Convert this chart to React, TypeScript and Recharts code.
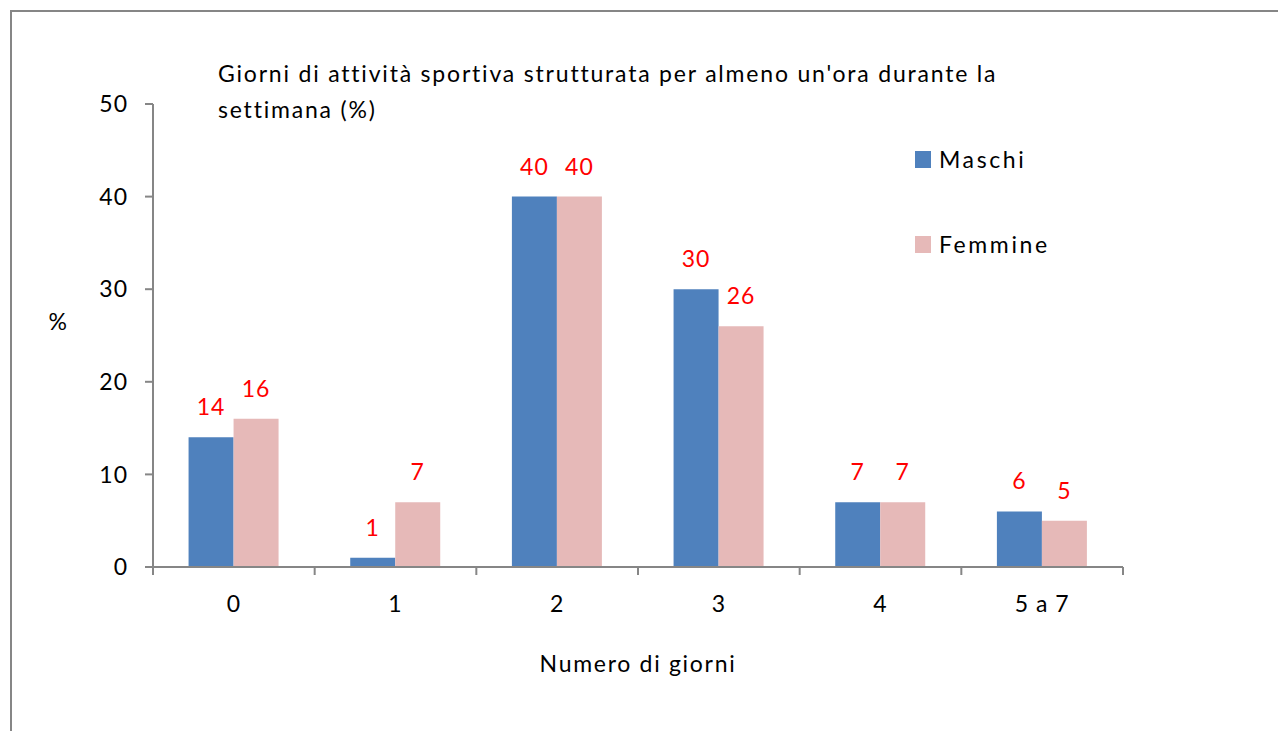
import React from 'react';
import { BarChart, Bar, XAxis, YAxis, Legend, LabelList } from 'recharts';

const categories = ['0', '1', '2', '3', '4', '5 a 7'];
const maschi = [14, 1, 40, 30, 7, 6];
const femmine = [16, 7, 40, 26, 7, 5];
const seriesNames = ['Maschi', 'Femmine'];
const yTicks = [0, 10, 20, 30, 40, 50];
const titleLines = ["Giorni di attività sportiva strutturata per almeno un'ora durante la", 'settimana (%)'];

const BLUE = '#4f81bd';
const PINK = '#e6b9b8';
const AXIS = '#868686';
const FONT = 'Lato, "Liberation Sans", sans-serif';
const FS = 23;

const data = categories.map((c, i) => ({ cat: c, Maschi: maschi[i], Femmine: femmine[i] }));

const CatTick = (props: any) => {
  const { x, y, payload, index } = props;
  const half = payload.offset || 0;
  return (
    <g>
      <line x1={x - half} x2={x - half} y1={y} y2={y + 8} stroke={AXIS} strokeWidth={2} />
      {index === categories.length - 1 && (
        <line x1={x + half} x2={x + half} y1={y} y2={y + 8} stroke={AXIS} strokeWidth={2} />
      )}
      <text x={x} y={y + 45} textAnchor="middle" fill="#000" fontSize={FS} fontFamily={FONT} letterSpacing={1}>
        {payload.value}
      </text>
    </g>
  );
};

const LegendContent = (props: any) => {
  const payload = [...(props.payload || [])].sort(
    (a: any, b: any) => seriesNames.indexOf(a.value) - seriesNames.indexOf(b.value)
  );
  return (
    <div style={{ position: 'relative', width: 200, height: 120 }}>
      {payload.map((p: any, i: number) => (
        <div
          key={p.value}
          style={{ position: 'absolute', left: 0, top: i * 85, display: 'flex', alignItems: 'center', height: 20 }}
        >
          <div style={{ width: 16, height: 17, background: p.color, marginRight: 8 }} />
          <span style={{ fontFamily: FONT, fontSize: FS, color: '#000', lineHeight: '20px', letterSpacing: 2.6 }}>{p.value}</span>
        </div>
      ))}
    </div>
  );
};

export default function App() {
  return (
    <div style={{ position: 'absolute', left: 0, top: 0, width: 1278, height: 731, overflow: 'hidden', background: '#fff' }}>
      <div
        style={{
          position: 'absolute',
          left: 10,
          top: 10,
          width: 1400,
          height: 900,
          borderLeft: `2px solid ${AXIS}`,
          borderTop: `2px solid ${AXIS}`,
        }}
      />
      <div style={{ position: 'absolute', left: 0, top: 0 }}>
        <BarChart
          width={1278}
          height={731}
          data={data}
          margin={{ top: 104, right: 155, bottom: 134, left: 93 }}
          barCategoryGap="22%"
          barGap={0}
        >
          <XAxis
            dataKey="cat"
            interval={0}
            tickLine={false}
            tickSize={0}
            tickMargin={0}
            axisLine={{ stroke: AXIS, strokeWidth: 2 }}
            tick={<CatTick />}
            height={30}
            label={{ value: 'Numero di giorni', position: 'bottom', offset: 59, fill: '#000', fontSize: FS, fontFamily: FONT, letterSpacing: 1.7 }}
          />
          <YAxis
            domain={[0, 50]}
            ticks={yTicks}
            interval={0}
            width={60}
            tickSize={8}
            tickMargin={17}
            axisLine={{ stroke: AXIS, strokeWidth: 2 }}
            tickLine={{ stroke: AXIS, strokeWidth: 2 }}
            tick={{ fill: '#000', fontSize: FS, fontFamily: FONT, letterSpacing: 1 }}
            label={{ value: '%', position: 'left', offset: 26, dy: -14, fill: '#000', fontSize: FS, fontFamily: FONT }}
          />
          <Legend
            layout="vertical"
            align="center"
            verticalAlign="middle"
            content={<LegendContent />}
            wrapperStyle={{ left: 915, top: 149, width: 200 }}
          />
          <Bar dataKey="Maschi" fill={BLUE} isAnimationActive={false}>
            <LabelList dataKey="Maschi" position="top" offset={22} fill="#ff0000" fontSize={FS} fontFamily={FONT} letterSpacing={1} />
          </Bar>
          <Bar dataKey="Femmine" fill={PINK} isAnimationActive={false}>
            <LabelList dataKey="Femmine" position="top" offset={22} fill="#ff0000" fontSize={FS} fontFamily={FONT} letterSpacing={1} />
          </Bar>
        </BarChart>
      </div>
      <div
        style={{
          position: 'absolute',
          left: 218,
          top: 55,
          fontFamily: FONT,
          fontSize: FS,
          lineHeight: '36px',
          color: '#000',
          whiteSpace: 'nowrap',
          letterSpacing: 1.8,
        }}
      >
        {titleLines.map((l) => (
          <div key={l}>{l}</div>
        ))}
      </div>
    </div>
  );
}
